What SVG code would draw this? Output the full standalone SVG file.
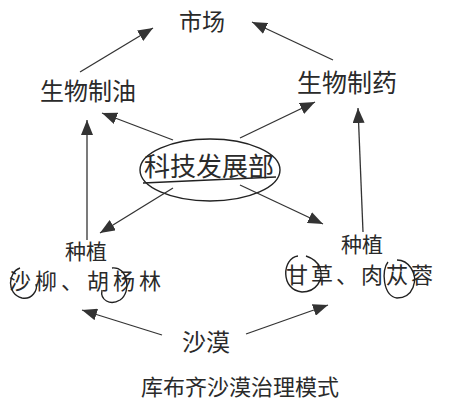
<svg xmlns="http://www.w3.org/2000/svg" width="449" height="412" viewBox="0 0 449 412">
<style>
text{font-family:"Noto Sans CJK SC","Noto Sans",sans-serif;fill:#2a2a2a;text-anchor:middle}
.c{stroke:#333;stroke-width:1.3;fill:none}
.h{stroke:#222;stroke-width:1.4;fill:none}
</style>
<defs>
<marker id="a" markerUnits="userSpaceOnUse" markerWidth="16" markerHeight="12" refX="15" refY="6" orient="auto">
<path d="M0,0 L15,6 L0,12 z" fill="#333"/>
</marker>
</defs>
<rect width="449" height="412" fill="#fff"/>
<g id="market"><text x="202" y="30" font-size="23">市场</text></g>
<g id="oil"><text x="88" y="100" font-size="24">生物制油</text></g>
<g id="pharma"><text x="347" y="92" font-size="25">生物制药</text></g>
<g id="tech">
<ellipse cx="210" cy="170" rx="70" ry="31" class="h"/>
<path d="M143,183 L276,177" class="h"/>
<text x="209" y="176" font-size="26">科技发展部</text>
</g>
<g id="plant-left">
<text x="86" y="259" font-size="21">种植</text>
<text x="87" y="289" font-size="22" letter-spacing="4">沙柳、胡杨林</text>
<path d="M20,268 C8,272 6,294 22,298 C32,300 38,290 36,284" class="h"/>
<path d="M112,268 C128,266 132,292 120,300 C110,306 100,300 102,290" class="h"/>
</g>
<g id="plant-right">
<text x="362" y="252" font-size="21">种植</text>
<text x="286" y="283" font-size="22" letter-spacing="3" style="text-anchor:start">甘草、肉苁蓉</text>
<path d="M298,256 C282,258 280,290 302,292 C316,292 324,280 320,268 C318,262 312,258 306,256" class="h"/>
<path d="M388,262 C381,270 383,296 397,298 C413,298 419,280 411,268 C407,262 401,260 397,260" class="h"/>
</g>
<g id="desert"><text x="206" y="351" font-size="24">沙漠</text></g>
<g id="caption"><text x="240" y="395" font-size="22">库布齐沙漠治理模式</text></g>
<g id="connectors">
<path d="M80,72 L153,28" class="c" marker-end="url(#a)"/>
<path d="M333,60 L252,22" class="c" marker-end="url(#a)"/>
<path d="M173,140 L102,113" class="c" marker-end="url(#a)"/>
<path d="M240,138 L315,102" class="c" marker-end="url(#a)"/>
<path d="M173,188 L100,233" class="c" marker-end="url(#a)"/>
<path d="M240,185 L323,224" class="c" marker-end="url(#a)"/>
<path d="M87,240 L87,120" class="c" marker-end="url(#a)"/>
<path d="M363,232 L358,108" class="c" marker-end="url(#a)"/>
<path d="M162,335 L82,310" class="c" marker-end="url(#a)"/>
<path d="M246,334 L328,305" class="c" marker-end="url(#a)"/>
</g>
</svg>
